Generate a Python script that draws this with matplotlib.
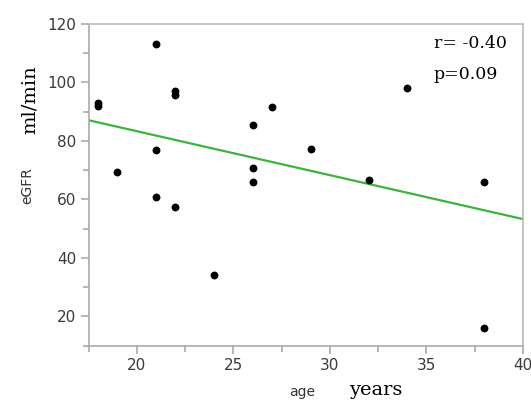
import numpy as np
import matplotlib.pyplot as plt

# age (years) vs eGFR (ml/min)
age = [18, 18, 19, 21, 21, 21, 22, 22, 22, 24, 26, 26, 26, 27, 29, 32, 34, 38, 38]
egfr = [93, 92, 69.5, 113, 77, 60.8, 97, 95.7, 57.5, 34, 85.5, 70.7, 65.8, 91.5, 77.3, 66.5, 98, 66, 16]

r_text = 'r= -0.40'
p_text = 'p=0.09'

fig = plt.figure(figsize=(5.31, 4.0), dpi=100)
ax = fig.add_axes([88.5/531, 1-345.5/400, (523-88.5)/531, (345.5-24)/400])

slope, icpt = np.polyfit(age, egfr, 1)
xs = np.array([17.5, 40])
ax.plot(xs, icpt + slope*xs, color='#3cb43c', lw=1.6, zorder=2)
ax.scatter(age, egfr, s=32, color='black', zorder=3, linewidths=0)

ax.set_xlim(17.5, 40)
ax.set_ylim(10, 120)
ax.set_xticks([20, 25, 30, 35, 40])
ax.set_xticks([17.5, 22.5, 27.5, 32.5, 37.5], minor=True)
ax.set_yticks([20, 40, 60, 80, 100, 120])
ax.set_yticks([10, 30, 50, 70, 90, 110], minor=True)

for s in ax.spines.values():
    s.set_color('#bbbbbb')
    s.set_linewidth(1.2)
ax.spines['left'].set_color('#aaaaaa')
ax.spines['bottom'].set_color('#aaaaaa')
ax.tick_params(which='both', direction='out', color='#aaaaaa', width=1.2)
ax.tick_params(which='major', length=6, labelsize=11, labelcolor='#3a3a3a', pad=3)
ax.tick_params(which='minor', length=4)
for lab in ax.get_xticklabels() + ax.get_yticklabels():
    lab.set_family('DejaVu Sans')

ax.text(0.795, 0.94, r_text, transform=ax.transAxes, family='DejaVu Serif', fontsize=12.5, va='center')
ax.text(0.795, 0.843, p_text, transform=ax.transAxes, family='DejaVu Serif', fontsize=12.5, va='center')

fig.text(30/531, 1-100/400, 'ml/min', rotation=90, family='DejaVu Serif', fontsize=14, ha='center', va='center')
fig.text(27/531, 1-186/400, 'eGFR', rotation=90, family='DejaVu Sans', fontsize=10, ha='center', va='center', color='#333333')
fig.text(302/531, 1-392/400, 'age', family='DejaVu Sans', fontsize=10, ha='center', va='center', color='#333333')
fig.text(376/531, 1-390/400, 'years', family='DejaVu Serif', fontsize=14, ha='center', va='center')

fig.savefig('out.png', dpi=100)
